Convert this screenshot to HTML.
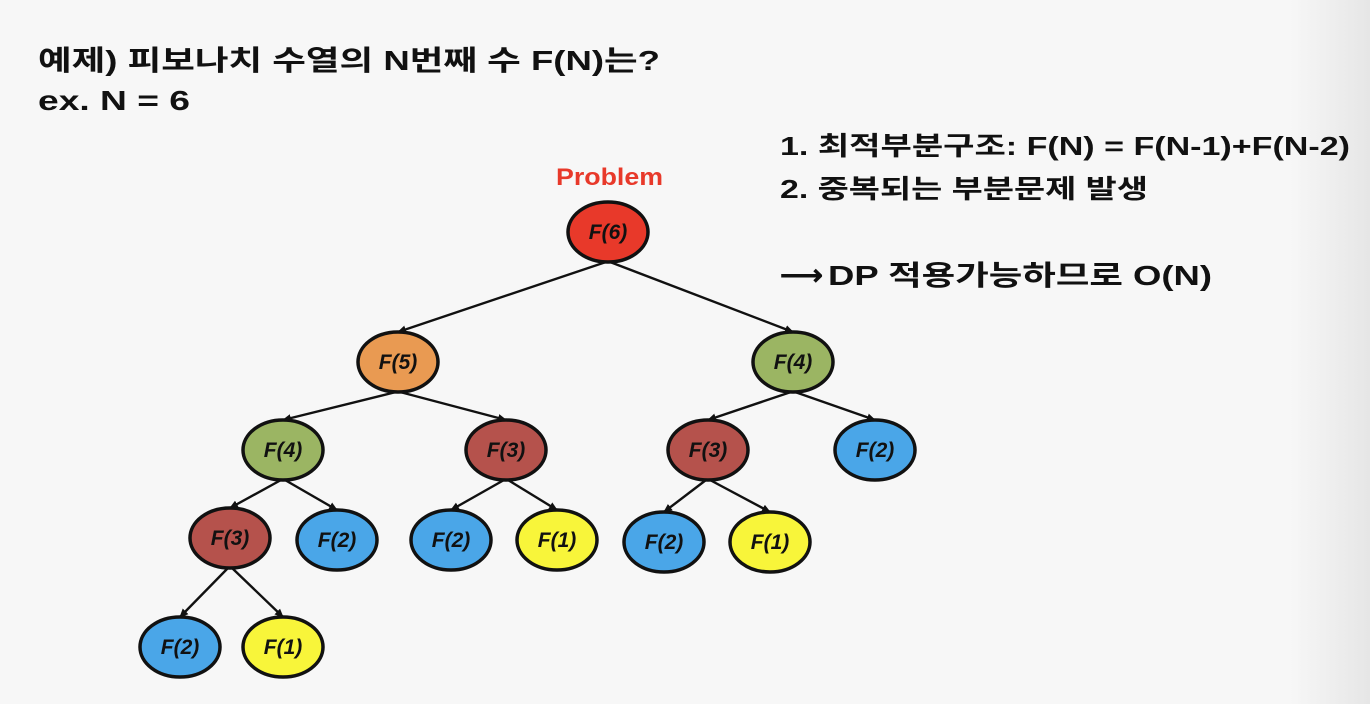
<!DOCTYPE html>
<html><head><meta charset="utf-8"><style>
html,body{margin:0;padding:0;width:1370px;height:704px;overflow:hidden;background:#f7f7f7}
svg{display:block}
text{font-family:"Liberation Sans","Noto Sans CJK KR",sans-serif;font-weight:bold;fill:#111}
.n{font-style:italic;font-size:21px;text-anchor:middle;fill:#111}
</style></head><body>
<svg width="1370" height="704" viewBox="0 0 1370 704">
<defs>
<linearGradient id="g" x1="0" x2="1"><stop offset="0" stop-color="#f7f7f7"/><stop offset="1" stop-color="#e6e6e6"/></linearGradient>
<marker id="a" markerWidth="10" markerHeight="10" refX="8" refY="5" orient="auto" markerUnits="userSpaceOnUse"><path d="M0,1 L9,5 L0,9 Z" fill="#111"/></marker>
</defs>
<rect x="1290" y="0" width="80" height="704" fill="url(#g)"/>
<text x="38" y="70" font-size="28" textLength="622" lengthAdjust="spacingAndGlyphs">예제) 피보나치 수열의 N번째 수 F(N)는?</text>
<text x="38" y="110" font-size="28" textLength="152" lengthAdjust="spacingAndGlyphs">ex. N = 6</text>
<text x="780" y="155" font-size="26" textLength="570" lengthAdjust="spacingAndGlyphs">1.   최적부분구조: F(N) = F(N-1)+F(N-2)</text>
<text x="780" y="198" font-size="26" textLength="368" lengthAdjust="spacingAndGlyphs">2.  중복되는 부분문제 발생</text>
<text x="780" y="285" font-size="30" font-weight="normal">⟶</text>
<text x="828" y="285" font-size="28" textLength="384" lengthAdjust="spacingAndGlyphs">DP 적용가능하므로 O(N)</text>
<text x="556" y="185" font-size="24" style="fill:#e8392a" textLength="107" lengthAdjust="spacingAndGlyphs">Problem</text>
<g stroke="#111" stroke-width="2.4" marker-end="url(#a)">
<line x1="606" y1="262" x2="398" y2="332"/>
<line x1="610" y1="262" x2="793" y2="332"/>
<line x1="396" y1="392" x2="283" y2="420"/>
<line x1="400" y1="392" x2="506" y2="420"/>
<line x1="791" y1="392" x2="708" y2="420"/>
<line x1="795" y1="392" x2="875" y2="420"/>
<line x1="281" y1="480" x2="230" y2="508"/>
<line x1="285" y1="480" x2="337" y2="510"/>
<line x1="504" y1="480" x2="451" y2="510"/>
<line x1="508" y1="480" x2="557" y2="510"/>
<line x1="706" y1="480" x2="664" y2="512"/>
<line x1="710" y1="480" x2="770" y2="512"/>
<line x1="228" y1="568" x2="180" y2="617"/>
<line x1="232" y1="568" x2="283" y2="617"/>
</g>
<g stroke="#111" stroke-width="3.5">
<ellipse cx="608" cy="232" rx="40" ry="30" fill="#e8392a"/>
<ellipse cx="398" cy="362" rx="40" ry="30" fill="#e99a52"/>
<ellipse cx="793" cy="362" rx="40" ry="30" fill="#9bb563"/>
<ellipse cx="283" cy="450" rx="40" ry="30" fill="#9bb563"/>
<ellipse cx="506" cy="450" rx="40" ry="30" fill="#b5524c"/>
<ellipse cx="708" cy="450" rx="40" ry="30" fill="#b5524c"/>
<ellipse cx="875" cy="450" rx="40" ry="30" fill="#4aa6e8"/>
<ellipse cx="230" cy="538" rx="40" ry="30" fill="#b5524c"/>
<ellipse cx="337" cy="540" rx="40" ry="30" fill="#4aa6e8"/>
<ellipse cx="451" cy="540" rx="40" ry="30" fill="#4aa6e8"/>
<ellipse cx="557" cy="540" rx="40" ry="30" fill="#f8f53a"/>
<ellipse cx="664" cy="542" rx="40" ry="30" fill="#4aa6e8"/>
<ellipse cx="770" cy="542" rx="40" ry="30" fill="#f8f53a"/>
<ellipse cx="180" cy="647" rx="40" ry="30" fill="#4aa6e8"/>
<ellipse cx="283" cy="647" rx="40" ry="30" fill="#f8f53a"/>
</g>
<g>
<text class="n" x="608" y="239">F(6)</text>
<text class="n" x="398" y="369">F(5)</text>
<text class="n" x="793" y="369">F(4)</text>
<text class="n" x="283" y="457">F(4)</text>
<text class="n" x="506" y="457">F(3)</text>
<text class="n" x="708" y="457">F(3)</text>
<text class="n" x="875" y="457">F(2)</text>
<text class="n" x="230" y="545">F(3)</text>
<text class="n" x="337" y="547">F(2)</text>
<text class="n" x="451" y="547">F(2)</text>
<text class="n" x="557" y="547">F(1)</text>
<text class="n" x="664" y="549">F(2)</text>
<text class="n" x="770" y="549">F(1)</text>
<text class="n" x="180" y="654">F(2)</text>
<text class="n" x="283" y="654">F(1)</text>
</g>
</svg>
</body></html>
